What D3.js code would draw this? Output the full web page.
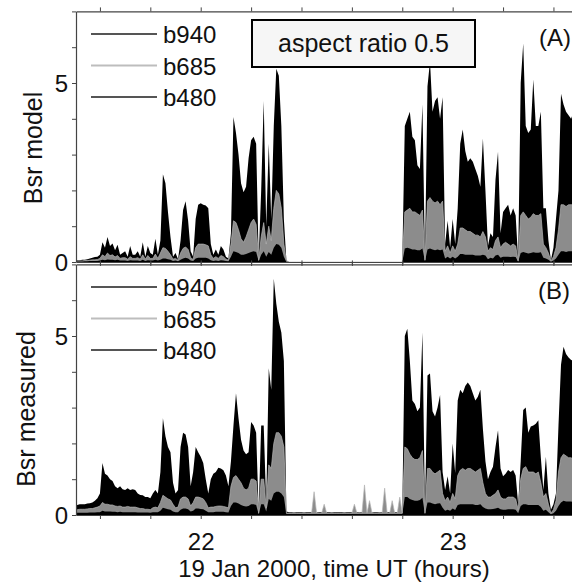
<!DOCTYPE html>
<html>
<head>
<meta charset="utf-8"/>
<script src="https://d3js.org/d3.v7.min.js" charset="utf-8"></script>
<style>
  body { margin: 0; background: #fff; overflow: hidden; }
  svg text { font-family: "Liberation Sans", Arial, Helvetica, sans-serif; fill: #111; }
</style>
</head>
<body>
<svg id="svg" width="572" height="582"></svg>
<script>
// time axis: one sample every 0.01 h starting at 21.50 UT
var t0 = 21.50, dt = 0.01;

var xTicks = [21.6, 21.8, 22, 22.2, 22.4, 22.6, 22.8, 23, 23.2, 23.4];
var xLabels = [22, 23];
var yTicks = [0, 1, 2, 3, 4, 5, 6, 7];
var yLabels = [0, 5];
var seriesNames = ["b940", "b685", "b480"];

// (A) model
var modelB940 = [
  0.05,0.05,0.05,0.06,0.06,0.08,0.10,0.12,0.14,0.15,
  0.20,0.55,0.40,0.70,0.45,0.52,0.33,0.48,0.20,0.25,
  0.30,0.15,0.45,0.20,0.20,0.30,0.15,0.55,0.15,0.45,
  0.25,0.20,0.65,0.20,0.60,2.45,2.20,1.40,0.70,0.15,
  0.25,0.08,0.60,1.45,1.70,1.15,0.30,0.15,1.20,1.60,
  1.64,1.60,1.58,1.50,0.50,0.20,0.35,0.20,0.45,0.35,
  0.15,0.10,0.80,4.05,3.60,3.00,2.20,1.95,2.10,2.90,
  3.40,3.50,3.30,0.10,2.00,4.50,1.00,3.30,1.20,3.80,
  5.40,5.20,3.80,1.20,0.05,0,0,0,0,0,
  0,0,0,0,0,0,0,0,0,0,
  0,0,0,0,0,0,0,0,0,0,
  0,0,0,0,0,0,0,0,0,0,
  0,0,0,0,0,0,0,0,0,0,
  0,3.80,4.00,4.20,3.50,3.40,2.70,2.60,4.40,0.10,
  4.90,5.60,4.20,4.50,4.60,4.00,4.60,0.50,1.15,0.40,
  1.20,0.50,1.50,3.30,3.70,3.10,2.80,2.90,2.80,2.60,
  2.40,2.10,3.45,2.00,0.45,0.80,0.70,2.30,3.08,0.80,
  1.40,1.50,1.60,1.30,1.50,1.30,0.05,5.00,6.10,3.80,
  3.60,3.70,5.10,3.80,3.80,4.20,1.50,1.50,0.60,0.05,
  0.40,1.20,2.00,4.70,4.40,4.20,4.10,4.00,4.20,3.80,
  4.00,3.50,3.90,4.20,3.60,3.80,4.00];
var modelB685 = [
  0.03,0.03,0.03,0.03,0.04,0.04,0.05,0.06,0.06,0.07,
  0.10,0.20,0.15,0.25,0.18,0.20,0.14,0.18,0.10,0.12,
  0.12,0.08,0.15,0.10,0.10,0.12,0.08,0.20,0.08,0.18,
  0.10,0.10,0.22,0.10,0.25,0.40,0.38,0.30,0.20,0.08,
  0.10,0.05,0.25,0.38,0.42,0.35,0.12,0.07,0.40,0.50,
  0.50,0.50,0.48,0.45,0.20,0.10,0.15,0.10,0.18,0.15,
  0.08,0.05,0.50,1.15,1.10,0.90,0.65,0.55,0.70,0.90,
  1.10,1.20,1.05,0.05,0.70,1.10,0.50,1.00,0.60,1.50,
  2.00,1.90,1.50,0.50,0.03,0,0,0,0,0,
  0,0,0,0,0,0,0,0,0,0,
  0,0,0,0,0,0,0,0,0,0,
  0,0,0,0,0,0,0,0,0,0,
  0,0,0,0,0,0,0,0,0,0,
  0,1.40,1.45,1.50,1.40,1.40,1.35,1.30,1.45,0.05,
  1.70,1.80,1.70,1.65,1.70,1.60,1.70,0.30,0.45,0.25,
  0.45,0.30,0.50,0.95,0.95,0.90,0.85,0.85,0.80,0.75,
  0.75,0.70,0.85,0.70,0.30,0.40,0.35,0.60,0.70,0.40,
  0.50,0.55,0.50,0.45,0.50,0.45,0.03,1.30,1.40,1.30,
  1.20,1.25,1.35,1.30,1.30,1.35,0.50,0.40,0.25,0.03,
  0.15,0.40,0.90,1.60,1.60,1.55,1.60,1.60,1.60,1.55,
  1.60,1.50,1.60,1.55,1.60,1.50,1.60];
var modelB480 = [
  0.02,0.02,0.02,0.02,0.02,0.02,0.03,0.03,0.03,0.03,
  0.04,0.06,0.05,0.07,0.06,0.06,0.05,0.06,0.04,0.04,
  0.04,0.03,0.05,0.04,0.04,0.04,0.03,0.06,0.03,0.05,
  0.04,0.04,0.06,0.04,0.06,0.10,0.10,0.08,0.06,0.03,
  0.04,0.02,0.06,0.10,0.12,0.10,0.04,0.03,0.10,0.12,
  0.12,0.12,0.12,0.10,0.05,0.03,0.04,0.03,0.05,0.04,
  0.03,0.02,0.15,0.30,0.28,0.25,0.20,0.20,0.22,0.25,
  0.28,0.30,0.28,0.02,0.20,0.30,0.15,0.28,0.20,0.40,
  0.50,0.48,0.40,0.15,0.01,0,0,0,0,0,
  0,0,0,0,0,0,0,0,0,0,
  0,0,0,0,0,0,0,0,0,0,
  0,0,0,0,0,0,0,0,0,0,
  0,0,0,0,0,0,0,0,0,0,
  0,0.38,0.40,0.38,0.35,0.35,0.33,0.33,0.38,0.02,
  0.35,0.38,0.35,0.33,0.35,0.33,0.35,0.10,0.15,0.10,
  0.15,0.10,0.15,0.22,0.22,0.20,0.20,0.20,0.20,0.18,
  0.18,0.18,0.20,0.18,0.08,0.12,0.10,0.18,0.20,0.12,
  0.15,0.15,0.15,0.14,0.15,0.14,0.01,0.25,0.28,0.26,
  0.24,0.25,0.27,0.26,0.26,0.27,0.12,0.10,0.06,0.01,
  0.04,0.10,0.20,0.30,0.30,0.28,0.30,0.30,0.30,0.28,
  0.30,0.28,0.30,0.28,0.30,0.28,0.30];

// (B) measured
var measB940 = [
  0.28,0.28,0.30,0.30,0.30,0.32,0.33,0.35,0.40,0.47,
  0.60,1.45,1.15,1.10,1.00,0.95,0.80,0.75,0.80,0.72,
  0.70,0.75,0.70,0.72,0.70,0.60,0.56,0.55,0.50,0.50,
  0.47,0.60,0.70,0.60,1.20,2.70,2.20,1.90,1.75,0.90,
  0.60,0.70,1.90,2.30,2.25,1.90,0.80,1.20,1.90,1.75,
  1.63,1.45,1.00,0.60,1.00,1.15,1.20,1.32,1.30,1.25,
  1.10,0.80,1.50,2.50,3.40,2.70,2.10,1.80,1.70,1.75,
  2.60,2.50,2.30,0.10,2.50,2.50,0.30,4.10,3.50,6.60,
  5.90,5.40,5.10,4.30,0.10,0.08,0.08,0.07,0.08,0.08,
  0.08,0.07,0.08,0.08,0.08,0.08,0.07,0.08,0.08,0.08,
  0.08,0.08,0.07,0.08,0.08,0.08,0.08,0.07,0.08,0.08,
  0.08,0.08,0.08,0.07,0.08,0.08,0.08,0.08,0.07,0.08,
  0.08,0.07,0.08,0.08,0.08,0.08,0.07,0.08,0.08,0.08,
  0.10,5.00,5.20,4.30,3.20,3.10,2.90,3.00,5.10,0.10,
  3.90,3.95,2.90,2.75,3.00,3.35,1.20,0.70,1.08,0.60,
  2.00,1.17,3.20,3.50,3.40,3.60,3.70,3.60,3.40,3.20,
  3.30,3.50,2.40,1.50,1.00,1.20,1.35,1.90,2.37,1.30,
  1.08,1.15,1.26,1.20,1.26,1.10,0.30,1.50,2.93,3.00,
  2.30,2.47,2.50,2.55,2.65,1.60,0.70,1.63,0.60,0.15,
  0.30,0.60,2.50,4.20,4.70,4.50,4.40,4.33,4.30,4.10,
  4.40,4.20,4.00,4.30,4.10,4.20,4.00];
var measB685 = [
  0.15,0.15,0.16,0.16,0.16,0.17,0.18,0.18,0.20,0.22,
  0.25,0.35,0.30,0.30,0.28,0.28,0.25,0.24,0.25,0.22,
  0.22,0.24,0.22,0.22,0.22,0.20,0.18,0.18,0.16,0.16,
  0.15,0.20,0.22,0.20,0.35,0.55,0.50,0.45,0.42,0.30,
  0.20,0.22,0.45,0.50,0.50,0.45,0.25,0.35,0.50,0.50,
  0.48,0.45,0.35,0.20,0.22,0.22,0.24,0.25,0.25,0.24,
  0.22,0.20,0.80,1.05,1.10,1.00,0.90,0.75,0.70,0.75,
  1.00,1.00,0.95,0.05,1.00,1.00,0.20,1.40,1.30,2.00,
  2.30,2.30,2.20,1.90,0.05,0.05,0.05,0.05,0.05,0.05,
  0.05,0.05,0.05,0.05,0.05,0.65,0.05,0.05,0.05,0.30,
  0.05,0.05,0.05,0.05,0.05,0.05,0.05,0.05,0.05,0.05,
  0.05,0.30,0.05,0.05,0.05,0.84,0.05,0.40,0.05,0.05,
  0.05,0.05,0.05,0.75,0.05,0.05,0.40,0.05,0.05,0.50,
  0.05,1.90,1.85,1.70,1.60,1.55,1.55,1.60,1.80,0.05,
  1.30,1.30,1.20,1.15,1.20,1.25,0.60,0.40,0.50,0.35,
  0.60,0.45,1.10,1.25,1.30,1.25,1.30,1.30,1.25,1.20,
  1.25,1.30,0.90,0.60,0.50,0.50,0.55,0.60,0.70,0.50,
  0.45,0.45,0.50,0.50,0.50,0.45,0.15,1.00,1.30,1.35,
  1.20,1.20,1.20,1.15,1.20,0.90,0.50,0.60,0.30,0.05,
  0.15,0.40,1.20,1.60,1.70,1.65,1.60,1.60,1.55,1.60,
  1.50,1.60,1.55,1.60,1.50,1.60,1.55];
var measB480 = [
  0.06,0.06,0.06,0.06,0.06,0.06,0.07,0.07,0.07,0.08,
  0.08,0.12,0.10,0.10,0.10,0.09,0.09,0.08,0.09,0.08,
  0.08,0.08,0.08,0.08,0.08,0.07,0.07,0.07,0.07,0.07,
  0.06,0.08,0.08,0.08,0.12,0.20,0.18,0.16,0.15,0.10,
  0.08,0.08,0.15,0.18,0.18,0.16,0.10,0.12,0.18,0.18,
  0.17,0.16,0.12,0.08,0.08,0.08,0.09,0.09,0.09,0.09,
  0.08,0.07,0.25,0.35,0.35,0.32,0.28,0.25,0.24,0.25,
  0.30,0.30,0.28,0.02,0.30,0.30,0.10,0.45,0.40,0.60,
  0.65,0.65,0.60,0.50,0.03,0.03,0.03,0.03,0.03,0.03,
  0.03,0.03,0.03,0.03,0.03,0.03,0.03,0.03,0.03,0.03,
  0.03,0.03,0.03,0.03,0.03,0.03,0.03,0.03,0.03,0.03,
  0.03,0.03,0.03,0.03,0.03,0.03,0.03,0.03,0.03,0.03,
  0.03,0.03,0.03,0.03,0.03,0.03,0.03,0.03,0.03,0.03,
  0.03,0.50,0.50,0.45,0.42,0.40,0.40,0.42,0.48,0.02,
  0.35,0.35,0.32,0.30,0.32,0.33,0.20,0.12,0.15,0.12,
  0.18,0.14,0.28,0.30,0.30,0.30,0.30,0.30,0.30,0.28,
  0.28,0.30,0.22,0.18,0.16,0.16,0.17,0.18,0.20,0.16,
  0.15,0.15,0.16,0.16,0.16,0.15,0.05,0.25,0.30,0.30,
  0.28,0.28,0.28,0.28,0.28,0.22,0.12,0.15,0.08,0.02,
  0.05,0.12,0.25,0.35,0.40,0.38,0.38,0.38,0.36,0.38,
  0.36,0.38,0.36,0.38,0.36,0.38,0.36];

var svg = d3.select("#svg");
var left = 76, right = 592;

var x = d3.scaleLinear().domain([21.505, 23.553]).range([left, right]);

svg.append("clipPath").attr("id", "plotclip")
  .append("rect").attr("x", left).attr("y", 0).attr("width", right - left).attr("height", 582);

var fills = { b940: "#000", b685: "#8c8c8c", b480: "#000" };
var legendStroke = { b940: "#555", b685: "#bdbdbd", b480: "#555" };

function drawPanel(p) {
  var y = d3.scaleLinear().domain([0, 7]).range([p.bottom, p.top]);
  var g = svg.append("g");
  var plot = g.append("g").attr("clip-path", "url(#plotclip)");

  var series = { b940: p.b940, b685: p.b685, b480: p.b480 };

  seriesNames.forEach(function(name) {
    var vals = series[name];
    var area = d3.area()
      .x(function(d, i) { return x(t0 + i * dt); })
      .y0(y(0))
      .y1(function(d) { return y(d); });
    plot.append("path")
      .datum(vals)
      .attr("d", area)
      .attr("fill", fills[name])
      .attr("stroke", "none");
  });
  // thin light line on top of b685, shows in the gaps
  plot.append("path")
    .datum(p.b685)
    .attr("d", d3.line().x(function(d, i) { return x(t0 + i * dt); }).y(function(d) { return y(d); }))
    .attr("fill", "none")
    .attr("stroke", "#b5b5b5")
    .attr("stroke-width", 0.7);

  // axes
  var yAxis = d3.axisLeft(y).tickValues(yTicks).tickSize(4).tickSizeOuter(0).tickPadding(4)
    .tickFormat(function(d) { return yLabels.indexOf(d) >= 0 ? d : ""; });
  var yg = g.append("g").attr("transform", "translate(" + left + ",0)").call(yAxis);
  yg.selectAll("text").attr("font-size", 24).attr("dy", "0.36em");

  var topAxis = d3.axisTop(x).tickValues(xTicks).tickSize(4).tickSizeOuter(0).tickFormat("");
  g.append("g").attr("transform", "translate(0," + p.top + ")").call(topAxis);

  var botAxis = d3.axisBottom(x).tickValues(xTicks).tickSize(4).tickSizeOuter(0).tickPadding(14)
    .tickFormat(function(d) { return p.labels && xLabels.indexOf(d) >= 0 ? d : ""; });
  var bg = g.append("g").attr("transform", "translate(0," + p.bottom + ")").call(botAxis);
  bg.selectAll("text").attr("font-size", 24);

  g.selectAll(".domain").attr("stroke", "#444").attr("stroke-width", 1.2);
  g.selectAll(".tick line").attr("stroke", "#444");

  // y label
  g.append("text")
    .attr("transform", "translate(" + p.labelX + "," + p.labelY + ") rotate(-90)")
    .attr("text-anchor", "middle")
    .attr("font-size", 25)
    .text(p.ylabel);

  // legend
  seriesNames.forEach(function(name, i) {
    var ly = p.legendY + i * 31.5;
    g.append("line")
      .attr("x1", 91).attr("x2", 157)
      .attr("y1", ly).attr("y2", ly)
      .attr("stroke", legendStroke[name])
      .attr("stroke-width", 1.8);
    g.append("text")
      .attr("x", 163).attr("y", ly + 9)
      .attr("font-size", 24)
      .text(name);
  });

  g.append("text")
    .attr("x", p.tagX).attr("y", p.tagY)
    .attr("font-size", 24)
    .text(p.tag);
}

drawPanel({
  top: 11.4, bottom: 262,
  b940: modelB940, b685: modelB685, b480: modelB480,
  ylabel: "Bsr model", labelX: 42, labelY: 148,
  legendY: 34, tag: "(A)", tagX: 539, tagY: 46, labels: false
});

drawPanel({
  top: 264.4, bottom: 515,
  b940: measB940, b685: measB685, b480: measB480,
  ylabel: "Bsr measured", labelX: 35, labelY: 409,
  legendY: 287, tag: "(B)", tagX: 538, tagY: 299, labels: true
});

// annotation box
svg.append("rect")
  .attr("x", 252).attr("y", 20).attr("width", 223).attr("height", 47)
  .attr("fill", "#f6f6f6").attr("stroke", "#000").attr("stroke-width", 2);
svg.append("text")
  .attr("x", 363.5).attr("y", 52)
  .attr("text-anchor", "middle")
  .attr("font-size", 25)
  .text("aspect ratio 0.5");

// x title
svg.append("text")
  .attr("x", 334).attr("y", 577)
  .attr("text-anchor", "middle")
  .attr("font-size", 24)
  .text("19 Jan 2000, time UT (hours)");
</script>
</body>
</html>
